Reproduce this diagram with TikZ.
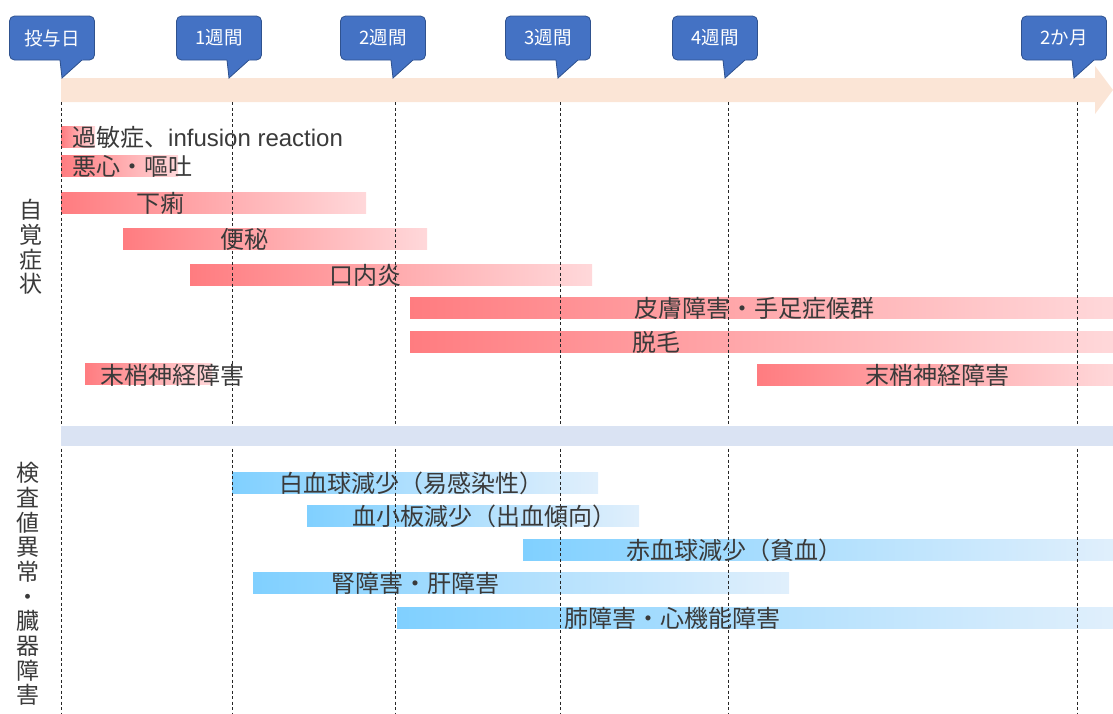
\documentclass[tikz,border=0pt]{standalone}
\usepackage{fontspec}
\setmainfont{Noto Sans CJK JP}
\newfontfamily\latinfont{Liberation Sans}
\definecolor{calloutfill}{HTML}{4472C4}
\definecolor{calloutedge}{HTML}{2F528F}
\definecolor{arrowfill}{HTML}{FBE5D6}
\definecolor{bandfill}{HTML}{DAE3F3}
\definecolor{redL}{RGB}{255,124,128}
\definecolor{redR}{RGB}{255,216,218}
\definecolor{blueL}{RGB}{128,208,255}
\definecolor{blueR}{RGB}{224,239,252}
\definecolor{txt}{HTML}{3A3A3A}
\definecolor{dashcol}{HTML}{262626}
\newcommand\weekmark[3]{%
  \node[callout] (#1) at (#2-10,38) {#3};
  \fill[calloutfill] (#2-2.3,59) -- (#2+21.4,59) -- (#2,78) -- cycle;
  \draw[calloutedge,line width=0.8pt] (#2-2,60) -- (#2,78) -- (#2+20,60);
}
\begin{document}
\begin{tikzpicture}[x=1pt,y=-1pt,
  callout/.style={draw=calloutedge, fill=calloutfill, rounded corners=5pt,
    minimum width=85pt, minimum height=44pt, text=white, line width=0.8pt,
    font=\fontsize{18.5}{20}\selectfont, inner sep=0pt},
  redbar/.style={left color=redL, right color=redR},
  bluebar/.style={left color=blueL, right color=blueR},
  dashline/.style={draw=dashcol, line width=0.9pt, dash pattern=on 3pt off 2.5pt},
  lbl/.style={text=txt, font=\fontsize{24}{26}\selectfont, inner sep=0pt},
  vlbl/.style={text=txt, font=\fontsize{23}{24.7}\selectfont, inner sep=0pt, align=center}]
\useasboundingbox (0,0) rectangle (1113,713);
% time arrow
\fill[arrowfill] (61,78) -- (1095,78) -- (1095,66) -- (1113,90) -- (1095,114) -- (1095,102) -- (61,102) -- cycle;
% red bars
\path[redbar] (61,126) rectangle (95,147);
\path[redbar] (61,155) rectangle (178,176);
\path[redbar] (61,192) rectangle (366,213);
\path[redbar] (123,228) rectangle (427,249);
\path[redbar] (190,264) rectangle (592,285);
\path[redbar] (410,297) rectangle (1113,318);
\path[redbar] (410,331) rectangle (1113,352);
\path[redbar] (85,363) rectangle (212,384);
\path[redbar] (757,364) rectangle (1113,385);
% blue bars
\path[bluebar] (232,472) rectangle (598,493);
\path[bluebar] (307,505) rectangle (639,526);
\path[bluebar] (523,539) rectangle (1113,560);
\path[bluebar] (253,572) rectangle (789,593);
\path[bluebar] (397,607) rectangle (1113,628);
% dashed week lines
\foreach \x in {61,232,395,560,728,1077}
  \draw[dashline] (\x,102) -- (\x,713);
% separator band
\fill[bandfill] (61,426) rectangle (1113,446);
% callouts
\weekmark{w0}{62}{投与日}
\weekmark{w1}{229}{1週間}
\weekmark{w2}{393}{2週間}
\weekmark{w3}{558}{3週間}
\weekmark{w4}{725}{4週間}
\weekmark{m2}{1074}{2か月}
% labels
\node[lbl, anchor=west] (t1) at (72,137) {過敏症、{\latinfont infusion reaction}};
\node[lbl, anchor=west] (t2) at (72,166) {悪心・嘔吐};
\node[lbl] (t3) at (160,203) {下痢};
\node[lbl] (t4) at (244,239) {便秘};
\node[lbl] (t5) at (365,275) {口内炎};
\node[lbl] (t6) at (754,308) {皮膚障害・手足症候群};
\node[lbl, anchor=west] (t7) at (632,342) {脱毛};
\node[lbl] (t8) at (172,375) {末梢神経障害};
\node[lbl] (t9) at (937,375) {末梢神経障害};
\node[lbl] (b1) at (411,483) {白血球減少（易感染性）};
\node[lbl] (b2) at (484,516) {血小板減少（出血傾向）};
\node[lbl] (b3) at (734,550) {赤血球減少（貧血）};
\node[lbl] (b4) at (415,583) {腎障害・肝障害};
\node[lbl] (b5) at (672,618) {肺障害・心機能障害};
\node[vlbl] (s1) at (31,247) {自\\覚\\症\\状};
\node[vlbl] (s2) at (28,584) {検\\査\\値\\異\\常\\・\\臓\\器\\障\\害};
\end{tikzpicture}
\end{document}
